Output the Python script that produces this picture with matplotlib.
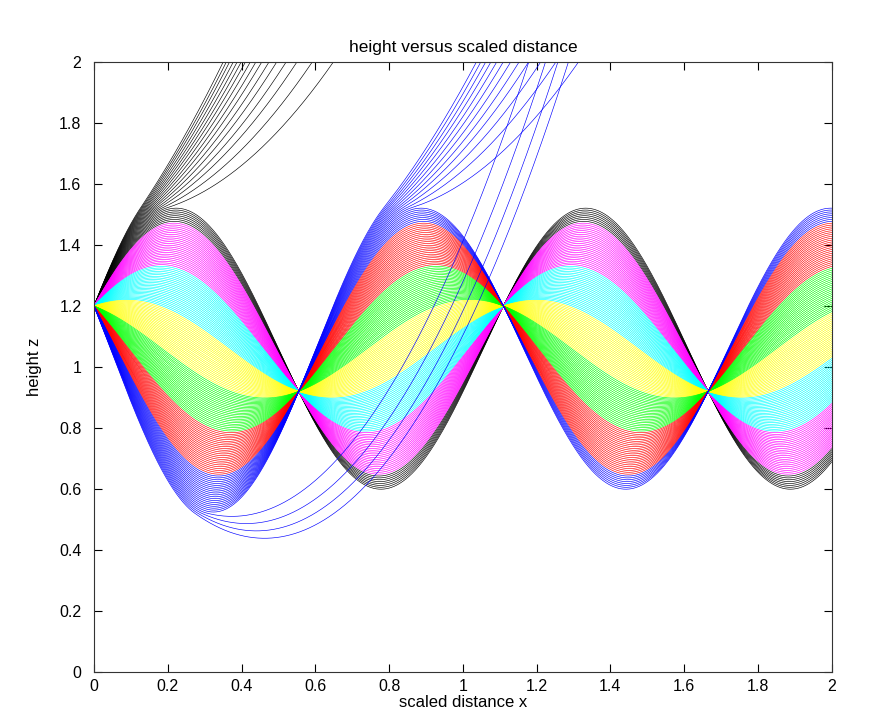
import numpy as np
import matplotlib
matplotlib.use('Agg')
from matplotlib import pyplot as plt

plt.rcParams['font.family'] = ['Liberation Sans', 'DejaVu Sans']

# colours of the seven bands, from lowest to highest launch slope
band_colors = ['#0000ff', '#ff0000', '#00ff00', '#ffff00', '#00ffff', '#ff00ff', '#000000']
curves_per_band = 24
b_low, b_high = -0.543, 0.543   # sin-coefficient of the outermost curves (read at x~0.28)

z_start = 1.2      # all curves start here
z_node = 0.92      # common crossing point at x = half_period
half_period = 0.555
z_top = 1.522      # curves rising above this leave the band
z_bot = 0.521      # curves sinking below this leave the band
g_top = 3.0        # upward curvature of curves escaped over the top
g_bot = 4.6        # upward curvature of curves escaped under the bottom

x_ticks = [0, 0.2, 0.4, 0.6, 0.8, 1, 1.2, 1.4, 1.6, 1.8, 2]
y_ticks = [0, 0.2, 0.4, 0.6, 0.8, 1, 1.2, 1.4, 1.6, 1.8, 2]

k = np.pi / half_period
c = (z_start + z_node) / 2
a = z_start - c
b_all = np.linspace(b_low, b_high, curves_per_band * len(band_colors))
x = np.linspace(0, 2, 4001)

fig = plt.figure(figsize=(8.7, 7.19), dpi=100)
ax = fig.add_axes([0.108, 0.0654, 0.848, 0.8484])

for i in reversed(range(len(b_all))):
    b = b_all[i]
    z = c + a * np.cos(k * x) + b * np.sin(k * x)
    out = np.where((z > z_top) | (z < z_bot))[0]
    if len(out):  # escaped: free flight with constant upward curvature
        j = out[0]
        g = g_top if z[j] > z_top else g_bot
        v = -a * k * np.sin(k * x[j]) + b * k * np.cos(k * x[j])
        dx = x[j:] - x[j]
        z[j:] = z[j] + v * dx + 0.5 * g * dx ** 2
    ax.plot(x, z, color=band_colors[i // curves_per_band], lw=0.45)

ax.set_xlim(0, 2)
ax.set_ylim(0, 2)
ax.set_xticks(x_ticks)
ax.set_yticks(y_ticks)
ax.set_xticklabels(['%g' % t for t in x_ticks])
ax.set_yticklabels(['%g' % t for t in y_ticks])
ax.tick_params(direction='in', top=True, right=True, length=6, labelsize=11.5)
ax.tick_params(axis='y', pad=9)
ax.tick_params(axis='x', pad=5)
for s in ax.spines.values():
    s.set_linewidth(0.8)
    s.set_color('#333333')
ax.set_title('height versus scaled distance', fontsize=12.5, pad=7)
ax.set_xlabel('scaled distance x', fontsize=12, labelpad=1)
ax.set_ylabel('height z', fontsize=12, labelpad=12)

plt.savefig('out.png', dpi=100)
